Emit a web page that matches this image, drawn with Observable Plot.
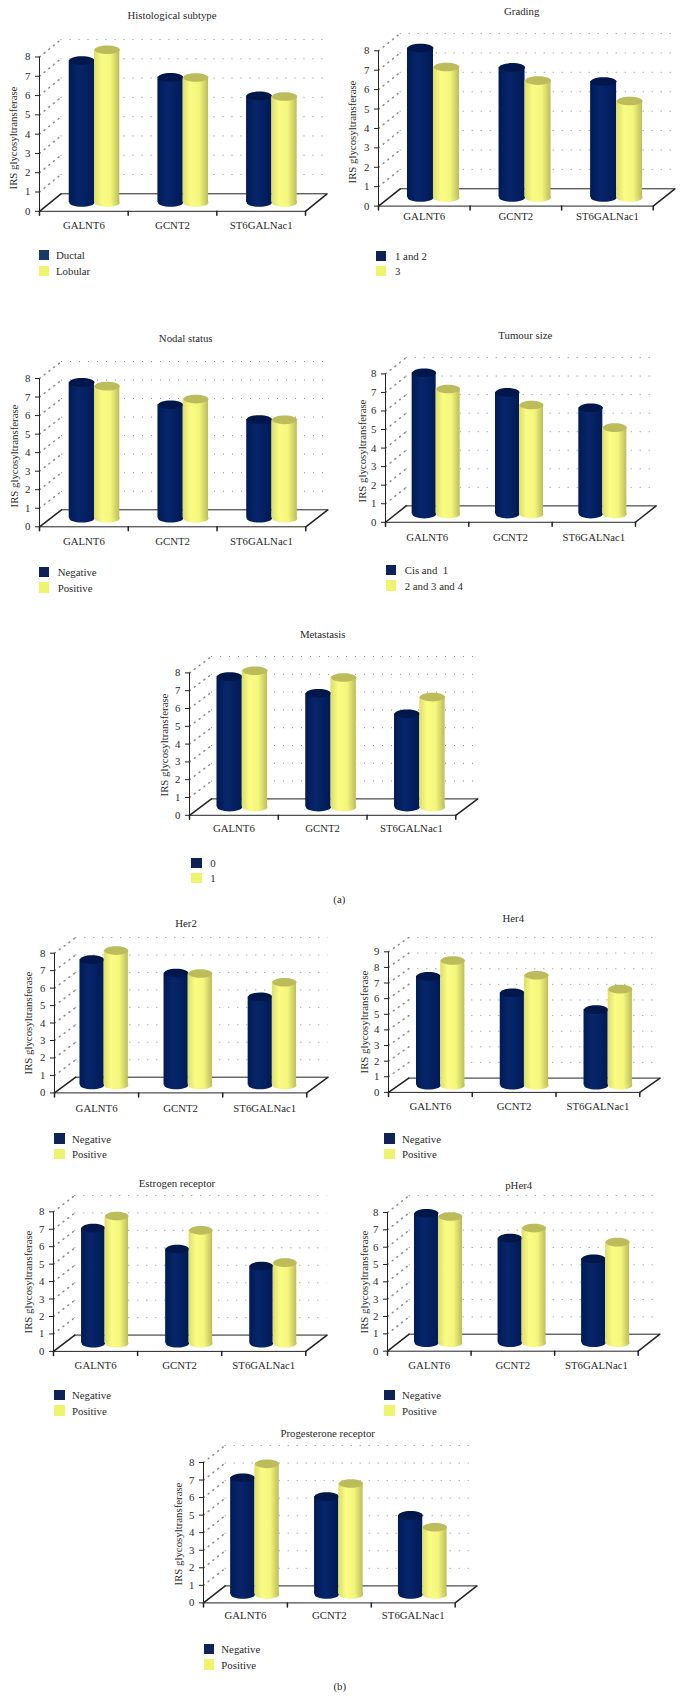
<!DOCTYPE html>
<html>
<head>
<meta charset="utf-8">
<script src="https://cdn.jsdelivr.net/npm/d3@7"></script>
<script src="https://cdn.jsdelivr.net/npm/@observablehq/plot@0.6"></script>
<style>
  html, body { margin: 0; padding: 0; background: #fff; }
  #page { position: relative; width: 682px; height: 1697px; overflow: hidden; font-family: "Liberation Serif", serif; font-size: 10.8px; color: #2a2a2a; }
  .t { position: absolute; white-space: pre; line-height: 12px; transform: translate(-50%, -50%); }
  .l { position: absolute; white-space: pre; line-height: 12px; transform: translateY(-50%); }
  .s { position: absolute; width: 10.3px; height: 10.3px; }
  #page svg.plot-panel { position: absolute; }
</style>
</head>
<body>
<svg width="0" height="0" style="position:absolute">
  <defs>
    <linearGradient id="navyBody" x1="0" x2="1" y1="0" y2="0">
      <stop offset="0" stop-color="#001a55"/>
      <stop offset="0.4" stop-color="#07266a"/>
      <stop offset="1" stop-color="#001a58"/>
    </linearGradient>
    <linearGradient id="yellowBody" x1="0" x2="1" y1="0" y2="0">
      <stop offset="0" stop-color="#dcde6c"/>
      <stop offset="0.3" stop-color="#fafb84"/>
      <stop offset="0.65" stop-color="#f4f67c"/>
      <stop offset="1" stop-color="#bcbe58"/>
    </linearGradient>
  </defs>
</svg>
<div id="page"></div>
<script>
const genes = ["GALNT6", "GCNT2", "ST6GALNac1"];

const histologicalDuctal = [7.36, 6.5, 5.53];
const histologicalLobular = [7.92, 6.48, 5.5];
const grading12 = [7.7, 6.7, 5.97];
const grading3 = [6.72, 6.02, 4.97];
const nodalNegative = [7.33, 6.12, 5.33];
const nodalPositive = [7.13, 6.43, 5.31];
const tumourCis1 = [7.62, 6.56, 5.73];
const tumour234 = [6.74, 5.88, 4.66];
const metastasis0 = [7.33, 6.39, 5.24];
const metastasis1 = [7.66, 7.28, 6.18];
const her2Negative = [7.18, 6.41, 5.05];
const her2Positive = [7.7, 6.39, 5.89];
const her4Negative = [6.98, 5.92, 4.84];
const her4Positive = [7.99, 7.04, 6.15];
const estrogenNegative = [6.6, 5.4, 4.43];
const estrogenPositive = [7.29, 6.47, 4.62];
const pHer4Negative = [7.46, 6.03, 4.84];
const pHer4Positive = [7.28, 6.61, 5.8];
const progesteroneNegative = [6.65, 5.57, 4.5];
const progesteronePositive = [7.44, 6.32, 3.83];

const yLabel = "IRS glycosyltransferase";

// Page layout of each panel: where its frame, title, axis label and legend sit.
const panels = [
  {title:"Histological subtype", names:["Ductal","Lobular"], a:histologicalDuctal, b:histologicalLobular, max:8,
   x0:39, x1:305, y0:211, yt:56.7, dx:21.5, dy:17.5, shift:10.7, w:25.3, tx:172, ty:15, lx:12.7, ly:138.3, xOff:15.7,
   sx:38.7, s1:250, s2:265.7, lt:56, firstColor:"#173a68"},
  {title:"Grading", names:["1 and 2","3"], a:grading12, b:grading3, max:8,
   x0:378, x1:652.7, y0:205.3, yt:50, dx:21.7, dy:17.3, shift:9.2, w:26, tx:521.7, ty:11.3, lx:352, ly:131.7, xOff:12,
   sx:376, s1:250.7, s2:266, lt:395},
  {title:"Nodal status", names:["Negative","Positive"], a:nodalNegative, b:nodalPositive, max:8,
   x0:39, x1:305.3, y0:526.3, yt:378, dx:22, dy:17, shift:10.6, w:25.3, tx:185.7, ty:338.3, lx:14, ly:455.7, xOff:15.7,
   sx:39, s1:567, s2:582.3, lt:57.7},
  {title:"Tumour size", names:["Cis and  1","2 and 3 and 4"], a:tumourCis1, b:tumour234, max:8,
   x0:385.3, x1:635.3, y0:521.7, yt:373.3, dx:20.7, dy:16.4, shift:9, w:24, tx:525.3, ty:335.3, lx:361.7, ly:450.7, xOff:16.6,
   sx:385.7, s1:565, s2:580.3, lt:404.7},
  {title:"Metastasis", names:["0","1"], a:metastasis0, b:metastasis1, max:8,
   x0:189, x1:455.3, y0:814.7, yt:672.3, dx:22, dy:16.4, shift:8.4, w:25.3, tx:322.7, ty:633.7, lx:164, ly:744.7, xOff:14.6,
   sx:191.3, s1:857.7, s2:872.7, lt:210.3},
  {title:"Her2", names:["Negative","Positive"], a:her2Negative, b:her2Positive, max:8,
   x0:53.7, x1:306, y0:1092, yt:952.3, dx:21.3, dy:15.7, shift:7.6, w:24.2, tx:186, ty:922.7, lx:28.3, ly:1022.7, xOff:17.3,
   sx:54.3, s1:1133.3, s2:1148.7, lt:72},
  {title:"Her4", names:["Negative","Positive"], a:her4Negative, b:her4Positive, max:9,
   x0:387.7, x1:639, y0:1092.3, yt:951.7, dx:20.3, dy:14.3, shift:10.3, w:24.2, tx:513.3, ty:918.3, lx:364, ly:1021.7, xOff:15.7,
   sx:384.3, s1:1133.3, s2:1148.7, lt:402},
  {title:"Estrogen receptor", names:["Negative","Positive"], a:estrogenNegative, b:estrogenPositive, max:8,
   x0:52.7, x1:305, y0:1351.3, yt:1211.7, dx:21.3, dy:16.3, shift:9.5, w:23.5, tx:177, ty:1183.3, lx:28.3, ly:1281.7, xOff:15.4,
   sx:54.3, s1:1390, s2:1405.3, lt:72},
  {title:"pHer4", names:["Negative","Positive"], a:pHer4Negative, b:pHer4Positive, max:8,
   x0:387, x1:637.7, y0:1351, yt:1212.3, dx:21.7, dy:17, shift:9.2, w:24, tx:518.7, ty:1185, lx:364.3, ly:1282, xOff:15.7,
   sx:384.3, s1:1390, s2:1405.3, lt:402},
  {title:"Progesterone receptor", names:["Negative","Positive"], a:progesteroneNegative, b:progesteronePositive, max:8,
   x0:203.3, x1:455, y0:1602.7, yt:1462.3, dx:21.7, dy:17, shift:9.5, w:24.3, tx:327.7, ty:1433, lx:178.3, ly:1534, xOff:14.3,
   sx:204, s1:1643.7, s2:1659.3, lt:221.3}
];

const captions = [{text:"(a)", x:339.3, y:899.3}, {text:"(b)", x:339.7, y:1685.7}];

const page = document.getElementById("page");

function addText(cls, text, left, top) {
  const el = document.createElement("div");
  el.className = cls;
  el.textContent = text;
  el.style.left = left + "px";
  el.style.top = top + "px";
  page.appendChild(el);
  return el;
}

function addSwatch(left, top, color) {
  const el = document.createElement("div");
  el.className = "s";
  el.style.left = left + "px";
  el.style.top = top + "px";
  el.style.background = color;
  page.appendChild(el);
}

const ellipseSymbol = (ratio) => ({
  draw(c, size) {
    const rx = Math.sqrt(size / Math.PI), ry = rx * ratio, k = 0.5523;
    c.moveTo(-rx, 0);
    c.bezierCurveTo(-rx, -ry * k, -rx * k, -ry, 0, -ry);
    c.bezierCurveTo(rx * k, -ry, rx, -ry * k, rx, 0);
    c.bezierCurveTo(rx, ry * k, rx * k, ry, 0, ry);
    c.bezierCurveTo(-rx * k, ry, -rx, ry * k, -rx, 0);
    c.closePath();
  }
});

const stick = {
  draw(c, l) {
    c.moveTo(0, 0);
    c.lineTo(0, -l);
  }
};

const ink = "#222222", gridInk = "#8a8a8a", dots = "1 8";

function drawPanel(p) {
  const marginLeft = 36, marginRight = p.dx + 4, marginTop = p.dy + 12, marginBottom = 30;
  const frameW = p.x1 - p.x0, frameH = p.y0 - p.yt;
  const band = frameW / genes.length;
  const ticks = d3.range(0, p.max + 1);
  const upper = ticks.slice(1);
  const angle = Math.atan2(p.dx, p.dy) * 180 / Math.PI;
  const depth = Math.hypot(p.dx, p.dy);
  const rows = genes.map((g, i) => ({gene: g, a: p.a[i], b: p.b[i]}));
  const ry = 4.3, rx = p.w / 2;
  const sym = ellipseSymbol(ry / rx);
  const lift = -p.dy / 2;

  const cylinder = (field, side, body, cap) => {
    const insetLeft = side < 0 ? band / 2 - p.w : band / 2;
    const insetRight = side < 0 ? band / 2 : band / 2 - p.w;
    const off = p.shift + side * p.w / 2;
    return [
      Plot.dot(rows, {x: "gene", y: () => 0, r: rx, symbol: sym, fill: body, dx: off, dy: lift}),
      Plot.barY(rows, {x: "gene", y: field, insetLeft, insetRight, fill: body, dx: p.shift, dy: lift}),
      Plot.dot(rows, {x: "gene", y: field, r: rx, symbol: sym, fill: cap, dx: off, dy: lift})
    ];
  };

  const svg = Plot.plot({
    width: frameW + marginLeft + marginRight,
    height: frameH + marginTop + marginBottom,
    marginLeft, marginRight, marginTop, marginBottom,
    style: {background: "transparent", overflow: "visible", fontFamily: "'Liberation Serif', serif", fontSize: "10.8px", color: "#2a2a2a"},
    x: {type: "band", domain: genes, padding: 0, round: false},
    y: {domain: [0, p.max]},
    marks: [
      Plot.ruleY(upper, {y: d => d, dx: p.dx, dy: -p.dy, stroke: gridInk, strokeDasharray: dots}),
      Plot.vector(upper, {y: d => d, frameAnchor: "left", length: depth, rotate: angle, anchor: "start", shape: stick, stroke: gridInk, strokeDasharray: "1 5"}),
      Plot.ruleY([0], {stroke: ink}),
      Plot.ruleY([0], {dx: p.dx, dy: -p.dy, stroke: ink}),
      Plot.vector([0], {y: d => d, frameAnchor: "left", length: depth, rotate: angle, anchor: "start", shape: stick, stroke: ink}),
      Plot.vector([0], {y: d => d, frameAnchor: "right", length: depth, rotate: angle, anchor: "start", shape: stick, stroke: ink}),
      Plot.frame({anchor: "left", stroke: ink}),
      Plot.vector(genes, {x: d => d, frameAnchor: "bottom", length: 4, rotate: 180, anchor: "start", shape: stick, stroke: ink, dx: -band / 2}),
      Plot.vector([0], {frameAnchor: "bottom-right", length: 4, rotate: 180, anchor: "start", shape: stick, stroke: ink}),
      Plot.axisY({ticks, tickSize: 4, tickPadding: 5, tickFormat: d => String(d), label: null, stroke: ink}),
      Plot.axisX({tickSize: 0, tickPadding: p.xOff - 5.5, label: null}),
      ...cylinder("a", -1, "url(#navyBody)", "#00174c"),
      ...cylinder("b", 1, "url(#yellowBody)", "#bcbd5a")
    ]
  });
  svg.classList.add("plot-panel");
  svg.style.left = (p.x0 - marginLeft) + "px";
  svg.style.top = (p.yt - marginTop) + "px";
  page.appendChild(svg);

  addText("t", p.title, p.tx, p.ty);
  addText("t", yLabel, p.lx, p.ly).style.transform = "translate(-50%, -50%) rotate(-90deg)";
  addSwatch(p.sx, p.s1, p.firstColor || "#0d2257");
  addSwatch(p.sx, p.s2, "#eef56c");
  addText("l", p.names[0], p.lt, p.s1 + 5.2);
  addText("l", p.names[1], p.lt, p.s2 + 5.2);
}

panels.forEach(drawPanel);
captions.forEach(c => addText("t", c.text, c.x, c.y));
</script>
</body>
</html>
